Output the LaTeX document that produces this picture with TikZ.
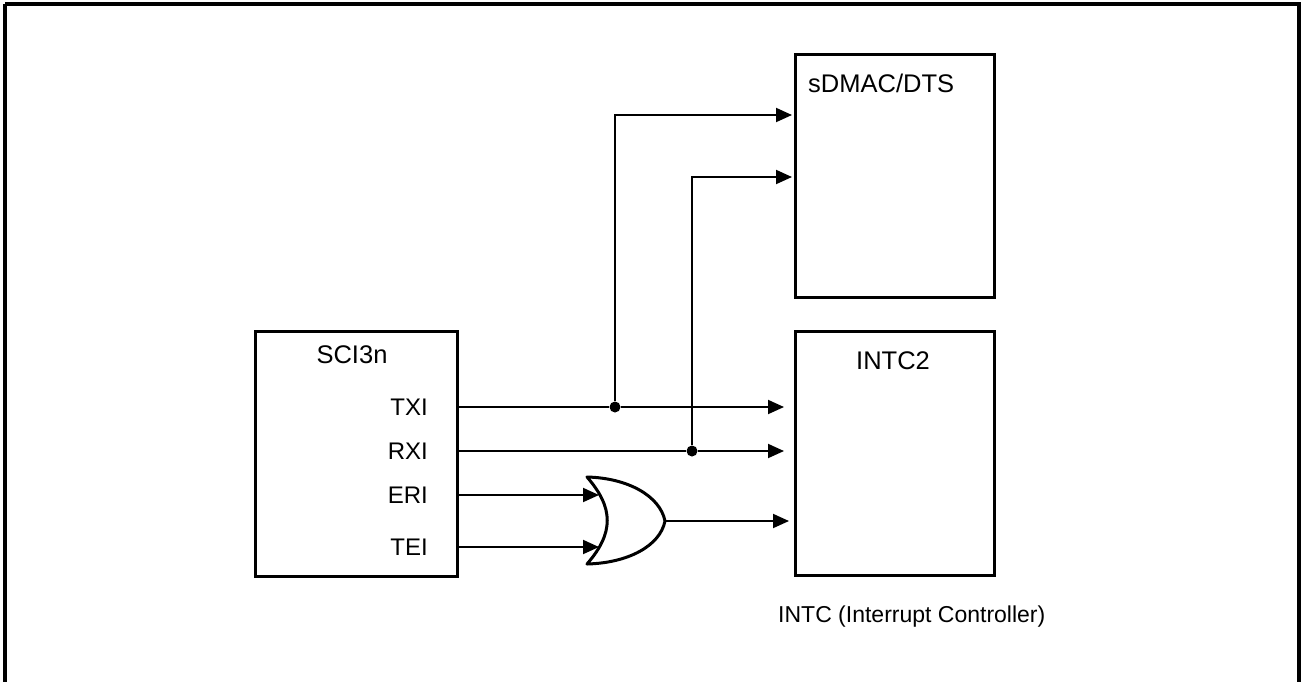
\documentclass[tikz,border=0pt]{standalone}
\usepackage{fontspec}
\setmainfont{Liberation Sans}
\usetikzlibrary{arrows.meta,calc}
\begin{document}
\begin{tikzpicture}[x=1pt,y=-1pt,
  blk/.style={draw,line width=3pt,rectangle,anchor=north west,inner sep=0pt,outer sep=0pt},
  ttl/.style={font=\fontsize{25.5}{30}\selectfont,inner sep=0pt},
  lbl/.style={font=\fontsize{24}{28}\selectfont,inner sep=0pt},
  captext/.style={font=\fontsize{23}{28}\selectfont,inner sep=0pt},
  conn/.style={line width=1.9pt,-{Triangle[length=16pt,width=14pt]}},
  wire/.style={line width=1.9pt},
  dot/.style={circle,fill=black,inner sep=0pt,minimum size=11pt}]
\useasboundingbox (0,0) rectangle (1302,681);
\draw[line width=3.5pt] (5,4) -- (1299,4) -- (1299,700) (5,4) -- (5,700);
% blocks
\node[blk,minimum width=202pt,minimum height=245pt] (sci) at (255,331) {};
\node[blk,minimum width=199pt,minimum height=243pt] (sdmac) at (795,54) {};
\node[blk,minimum width=199pt,minimum height=244pt] (intc) at (795,331) {};
% titles
\node[ttl] (scititle) at (352,355) {SCI3n};
\node[ttl,anchor=west] (sdmactitle) at (808,83) {sDMAC/DTS};
\node[ttl] (intctitle) at (893,361) {INTC2};
\node[captext,anchor=west] (caption) at (778,617) {INTC (Interrupt Controller)};
% port labels
\node[lbl,anchor=east] (txi) at (428,407) {TXI};
\node[lbl,anchor=east] (rxi) at (428,451) {RXI};
\node[lbl,anchor=east] (eri) at (428,495) {ERI};
\node[lbl,anchor=east] (tei) at (428,547) {TEI};
% junction dots
\node[dot] (d1) at (615,407) {};
\node[dot] (d2) at (692,451) {};
% sDMAC inputs
\coordinate (s1) at (795,115);
\coordinate (s2) at (795,177);
% OR gate
\coordinate (gtl) at (587,477);
\coordinate (gbl) at (587,564);
\coordinate (gout) at (665,521);
\coordinate (gin1) at (599,495);
\coordinate (gin2) at (599,547);
\draw[line width=3pt,line join=round] (gtl) .. controls (628,478) and (660,496) .. (gout)
  .. controls (660,546) and (628,563) .. (gbl)
  .. controls (614,533) and (614,508) .. cycle;
% connectors
\draw[wire] (sci.east |- txi) -- (d1);
\draw[conn,shorten >=11pt] (d1) -- (intc.west |- txi);
\draw[wire] (sci.east |- rxi) -- (d2);
\draw[conn,shorten >=11pt] (d2) -- (intc.west |- rxi);
\draw[conn,shorten >=3pt] (d1) |- (s1);
\draw[conn,shorten >=3pt] (d2) |- (s2);
\draw[conn] (sci.east |- eri) -- (gin1);
\draw[conn] (sci.east |- tei) -- (gin2);
\draw[conn,shorten >=6pt] (gout) -- (intc.west |- gout);
\end{tikzpicture}
\end{document}
